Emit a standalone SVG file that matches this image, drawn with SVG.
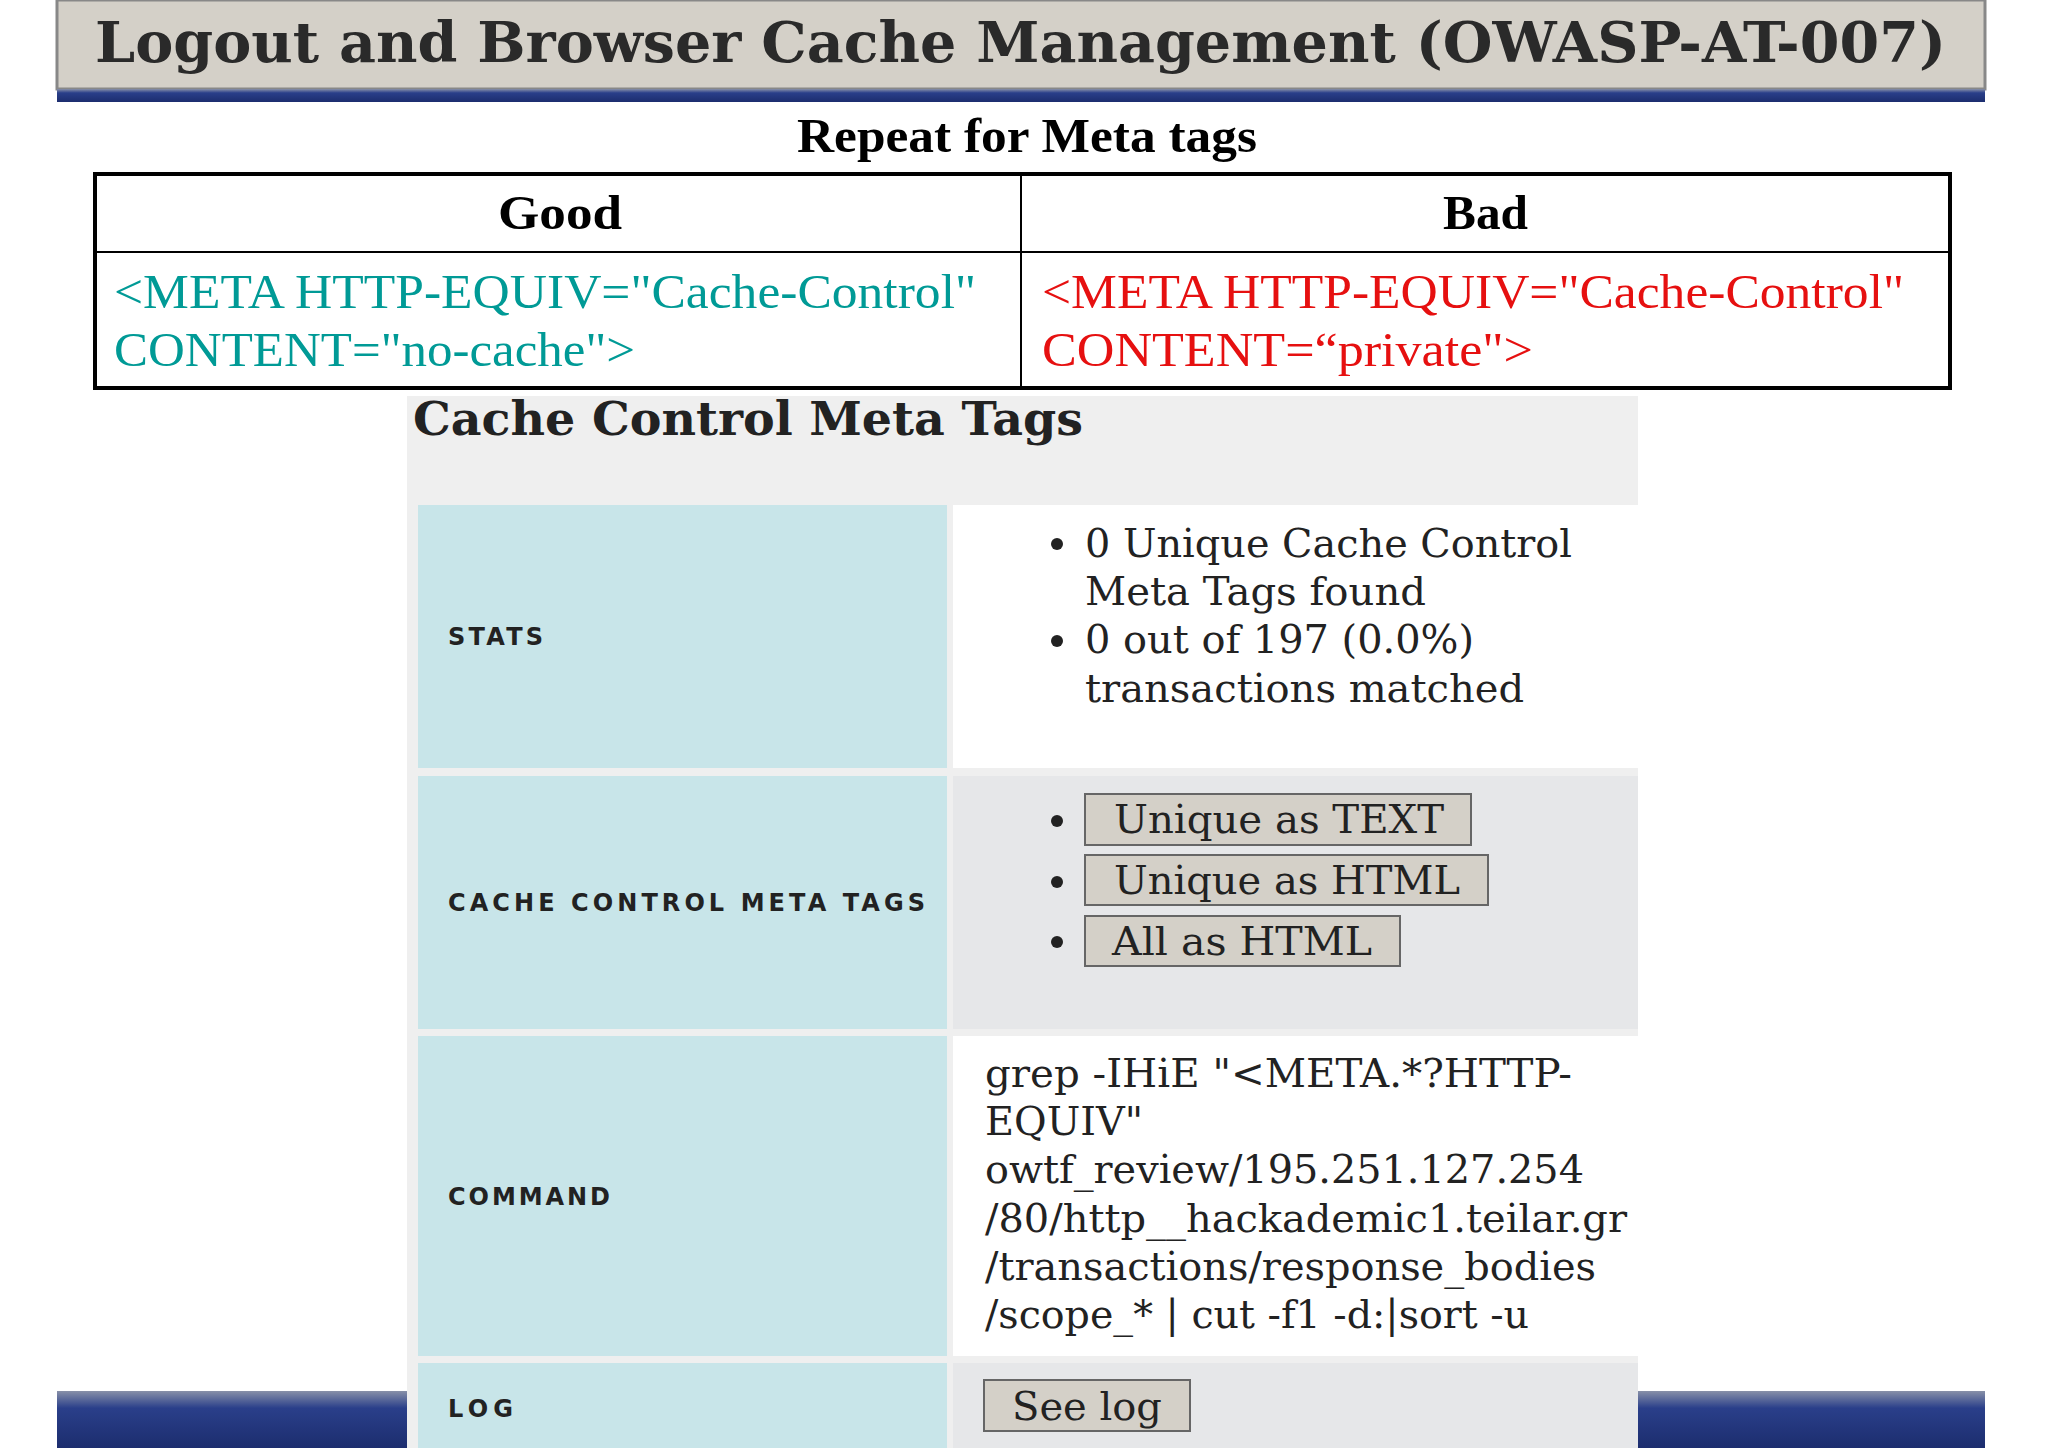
<svg xmlns="http://www.w3.org/2000/svg" width="2048" height="1448" viewBox="0 0 2048 1448">
<defs>
<linearGradient id="blu" x1="0" y1="0" x2="0" y2="1"><stop offset="0" stop-color="#8890a8"/><stop offset="0.3" stop-color="#2a3f8a"/><stop offset="1" stop-color="#1c2d6e"/></linearGradient>
<style>
.ser{font-family:"DejaVu Serif","Liberation Serif",serif}
.b{font-weight:bold}
.lbl{font-family:"DejaVu Sans","Liberation Sans",sans-serif;font-size:24px;fill:#222;font-weight:bold}
.cell{fill:#c8e5e9}
.btn{fill:#d4d0c8;stroke:#666;stroke-width:2}
.t40{font-size:40px;fill:#222}
</style>
</defs>
<rect width="2048" height="1448" fill="#fff"/>
<g id="header">
<rect x="57" y="0" width="1928" height="89" fill="#d4d0c8" stroke="#888" stroke-width="3"/>
<rect x="57" y="89" width="1928" height="13" fill="url(#blu)"/>
<text x="95" y="62" class="ser b" font-size="56" fill="#2a2a2a" textLength="1851" lengthAdjust="spacingAndGlyphs">Logout and Browser Cache Management (OWASP-AT-007)</text>
</g>
<g id="compare">
<text x="797" y="152" font-family="Liberation Serif,serif" font-weight="bold" font-size="48" textLength="460" lengthAdjust="spacingAndGlyphs">Repeat for Meta tags</text>
<rect x="95" y="174" width="1855" height="214" fill="#fff" stroke="#000" stroke-width="4"/>
<line x1="95" y1="252" x2="1950" y2="252" stroke="#000" stroke-width="2"/>
<line x1="1021" y1="174" x2="1021" y2="388" stroke="#000" stroke-width="2"/>
<text x="498" y="229" font-family="Liberation Serif,serif" font-weight="bold" font-size="48" textLength="124" lengthAdjust="spacingAndGlyphs">Good</text>
<text x="1443" y="229" font-family="Liberation Serif,serif" font-weight="bold" font-size="48" textLength="85" lengthAdjust="spacingAndGlyphs">Bad</text>
<g font-family="Liberation Serif,serif" font-size="49">
<text x="114" y="308" fill="#009a96" textLength="862" lengthAdjust="spacingAndGlyphs">&lt;META HTTP-EQUIV="Cache-Control"</text>
<text x="114" y="366" fill="#009a96" textLength="521" lengthAdjust="spacingAndGlyphs">CONTENT="no-cache"&gt;</text>
<text x="1042" y="308" fill="#e61010" textLength="862" lengthAdjust="spacingAndGlyphs">&lt;META HTTP-EQUIV="Cache-Control"</text>
<text x="1042" y="366" fill="#e61010" textLength="491" lengthAdjust="spacingAndGlyphs">CONTENT=“private"&gt;</text>
</g>
</g>
<g id="bottombar">
<rect x="57" y="1391" width="350" height="57" fill="url(#blu)"/>
<rect x="1638" y="1391" width="347" height="57" fill="url(#blu)"/>
</g>
<g id="panel">
<rect x="407" y="396" width="1231" height="1052" fill="#efefef"/>
<text x="413" y="435" class="ser b" font-size="46" fill="#222" textLength="670" lengthAdjust="spacingAndGlyphs">Cache Control Meta Tags</text>
<rect x="418" y="505" width="529" height="263" class="cell"/>
<rect x="953" y="505" width="685" height="263" fill="#fff"/>
<rect x="418" y="776" width="529" height="253" class="cell"/>
<rect x="953" y="776" width="685" height="253" fill="#e6e7e9"/>
<rect x="418" y="1036" width="529" height="320" class="cell"/>
<rect x="953" y="1036" width="685" height="320" fill="#fff"/>
<rect x="418" y="1363" width="529" height="85" class="cell"/>
<rect x="953" y="1363" width="685" height="85" fill="#e6e7e9"/>
<text x="448" y="645" class="lbl" textLength="95" lengthAdjust="spacing">STATS</text>
<text x="448" y="911" class="lbl" textLength="477" lengthAdjust="spacing">CACHE CONTROL META TAGS</text>
<text x="448" y="1205" class="lbl" textLength="162" lengthAdjust="spacing">COMMAND</text>
<text x="448" y="1417" class="lbl" textLength="65" lengthAdjust="spacing">LOG</text>
<g class="ser t40">
<circle cx="1057" cy="544" r="6" fill="#222"/>
<circle cx="1057" cy="641" r="6" fill="#222"/>
<text x="1085" y="557" textLength="487" lengthAdjust="spacingAndGlyphs">0 Unique Cache Control</text>
<text x="1085" y="605" textLength="341" lengthAdjust="spacingAndGlyphs">Meta Tags found</text>
<text x="1085" y="653" textLength="389" lengthAdjust="spacingAndGlyphs">0 out of 197 (0.0%)</text>
<text x="1085" y="702" textLength="439" lengthAdjust="spacingAndGlyphs">transactions matched</text>
</g>
<g class="ser t40">
<circle cx="1057" cy="821" r="6" fill="#222"/>
<circle cx="1057" cy="882" r="6" fill="#222"/>
<circle cx="1057" cy="942" r="6" fill="#222"/>
<rect x="1085" y="794" width="386" height="51" class="btn"/>
<rect x="1085" y="855" width="403" height="50" class="btn"/>
<rect x="1085" y="916" width="315" height="50" class="btn"/>
<text x="1114" y="833" textLength="330" lengthAdjust="spacingAndGlyphs">Unique as TEXT</text>
<text x="1114" y="894" textLength="346" lengthAdjust="spacingAndGlyphs">Unique as HTML</text>
<text x="1112" y="955" textLength="260" lengthAdjust="spacingAndGlyphs">All as HTML</text>
</g>
<g class="ser t40">
<text x="985" y="1087" textLength="587" lengthAdjust="spacingAndGlyphs">grep -IHiE "&lt;META.*?HTTP-</text>
<text x="985" y="1135" textLength="158" lengthAdjust="spacingAndGlyphs">EQUIV"</text>
<text x="985" y="1183" textLength="599" lengthAdjust="spacingAndGlyphs">owtf_review/195.251.127.254</text>
<text x="985" y="1232" textLength="642" lengthAdjust="spacingAndGlyphs">/80/http__hackademic1.teilar.gr</text>
<text x="985" y="1280" textLength="611" lengthAdjust="spacingAndGlyphs">/transactions/response_bodies</text>
<text x="985" y="1328" textLength="544" lengthAdjust="spacingAndGlyphs">/scope_* | cut -f1 -d:|sort -u</text>
<rect x="984" y="1380" width="206" height="51" class="btn"/>
<text x="1012" y="1420" textLength="150" lengthAdjust="spacingAndGlyphs">See log</text>
</g>
</g>
</svg>
